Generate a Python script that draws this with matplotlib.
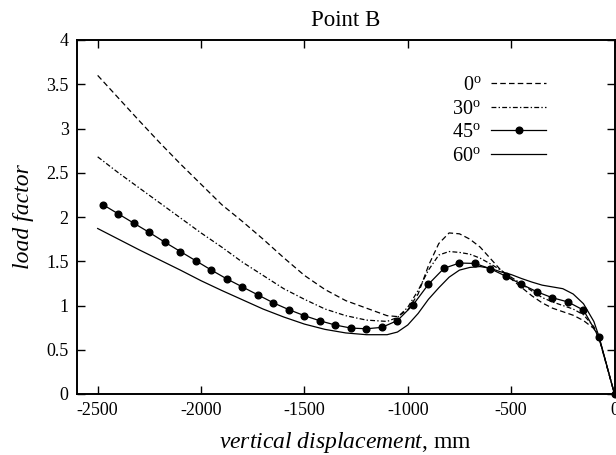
import matplotlib
matplotlib.use("Agg")
import matplotlib.pyplot as plt
import numpy as np
from matplotlib.ticker import FuncFormatter

plt.rcParams['font.family'] = ['Liberation Serif', 'DejaVu Serif']
plt.rcParams['mathtext.fontset'] = 'custom'
plt.rcParams['mathtext.rm'] = 'Liberation Serif'
plt.rcParams['mathtext.it'] = 'Liberation Serif:italic'
plt.rcParams['lines.scale_dashes'] = False

# ---- data (vertical displacement in mm, load factor) ----
x_line = [-2500, -2400, -2300, -2200, -2100, -2000, -1900, -1800, -1700, -1600,
          -1500, -1400, -1300, -1200, -1100, -1050, -1000, -950, -900, -850,
          -800, -750, -700, -650, -600, -550, -500, -450, -400, -350,
          -300, -250, -200, -150, -100, -75, 0]

lf_0 = [3.60, 3.345, 3.09, 2.84, 2.60, 2.37, 2.14, 1.95, 1.75, 1.54,
        1.34, 1.18, 1.055, 0.97, 0.885, 0.875, 0.95, 1.13, 1.45, 1.70,
        1.82, 1.81, 1.75, 1.66, 1.53, 1.40, 1.30, 1.205, 1.11, 1.03,
        0.97, 0.93, 0.89, 0.83, 0.74, 0.63, 0.0]

lf_30 = [2.68, 2.50, 2.33, 2.16, 1.99, 1.82, 1.66, 1.49, 1.34, 1.19,
         1.07, 0.96, 0.885, 0.835, 0.82, 0.865, 0.98, 1.17, 1.40, 1.57,
         1.61, 1.60, 1.58, 1.535, 1.47, 1.40, 1.32, 1.245, 1.165, 1.09,
         1.04, 1.00, 0.96, 0.895, 0.76, 0.64, 0.0]

lf_60 = [1.87, 1.75, 1.63, 1.515, 1.40, 1.28, 1.17, 1.065, 0.96, 0.87,
         0.79, 0.73, 0.69, 0.67, 0.67, 0.70, 0.78, 0.91, 1.07, 1.20,
         1.32, 1.40, 1.43, 1.44, 1.42, 1.38, 1.35, 1.305, 1.265, 1.23,
         1.21, 1.19, 1.13, 1.02, 0.82, 0.65, 0.0]

x_45 = [-2475, -2400, -2325, -2250, -2175, -2100, -2025, -1950, -1875, -1800,
        -1725, -1650, -1575, -1500, -1425, -1350, -1275, -1200, -1125, -1050,
        -975, -900, -825, -750, -675, -600, -525, -450, -375, -300,
        -225, -150, -75, 0]
lf_45 = [2.14, 2.035, 1.93, 1.825, 1.715, 1.61, 1.505, 1.40, 1.30, 1.21,
         1.12, 1.03, 0.953, 0.885, 0.827, 0.779, 0.745, 0.737, 0.753, 0.83,
         1.005, 1.24, 1.42, 1.48, 1.475, 1.415, 1.33, 1.24, 1.155, 1.087,
         1.04, 0.948, 0.64, 0.0]

labels = [r'0$^{\mathrm{o}}$', r'30$^{\mathrm{o}}$', r'45$^{\mathrm{o}}$', r'60$^{\mathrm{o}}$']
x_ticks = [-2500, -2000, -1500, -1000, -500, 0]
y_ticks = [0, 0.5, 1, 1.5, 2, 2.5, 3, 3.5, 4]

fig = plt.figure(figsize=(6.16, 4.55), dpi=100)
ax = fig.add_axes([77/616, 1-394/455, (614.5-77)/616, (394-40)/455])

lw = 0.9
ax.plot(x_line, lf_0, color='black', lw=lw, dashes=(4, 2.3), label=labels[0])
ax.plot(x_line, lf_30, color='black', lw=lw, dashes=(3.5, 1.6, 1.0, 1.6), label=labels[1])
ax.plot(x_45, lf_45, color='black', lw=lw, marker='o', markersize=4.8, label=labels[2],
        clip_on=False)
ax.plot(x_line, lf_60, color='black', lw=lw, label=labels[3])

ax.set_xlim(-2600, 0)
ax.set_ylim(0, 4)
ax.set_xticks(x_ticks)
ax.set_yticks(y_ticks)
ax.yaxis.set_major_formatter(FuncFormatter(lambda v, p: '%g' % v))
ax.xaxis.set_major_formatter(FuncFormatter(lambda v, p: '%g' % v))
ax.tick_params(direction='in', length=6, width=1.0, top=True, right=True,
               labelsize=13, pad=6, colors='black')
for s in ax.spines.values():
    s.set_linewidth(1.4)

ax.set_title('Point B', fontsize=16.5, pad=10)
ax.set_xlabel(r'$\mathit{vertical\ displacement}$, mm', fontsize=17, labelpad=8)
ax.set_ylabel('load factor', fontsize=17, style='italic', labelpad=9)

leg = ax.legend(loc='upper right', bbox_to_anchor=(0.872, 0.898), frameon=False,
                markerfirst=False, fontsize=14.5, handlelength=2.7, handletextpad=0.5,
                labelspacing=0.22, borderaxespad=0, borderpad=0)

fig.savefig('out.png', dpi=100)
